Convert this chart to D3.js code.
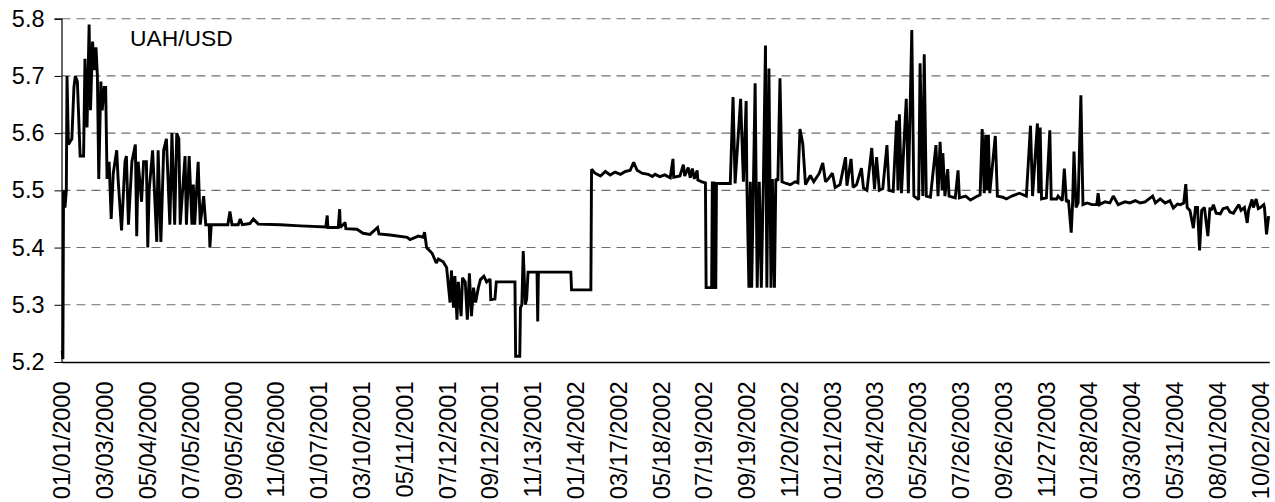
<!DOCTYPE html>
<html><head><meta charset="utf-8">
<script src="https://cdn.jsdelivr.net/npm/d3@7"></script>
<style>html,body{margin:0;padding:0;background:#fff;}svg{display:block;}</style>
</head><body>
<script>
// Days since 01/01/2000 (category axis) and UAH/USD rate
const dayIndex = [
1,2,3,5,7,8,10,15,18,20,
23,27,32,34,37,40,42,45,48,50,
52,54,57,59,62,64,66,69,72,75,
80,82,87,92,94,97,102,107,109,111,
116,119,123,125,127,132,138,140,144,148,
152,157,160,164,167,170,172,179,181,185,
189,191,193,198,201,206,209,214,215,217,
241,244,247,256,259,262,273,278,285,317,
346,383,385,386,401,403,404,411,412,428,
437,447,458,460,476,501,505,517,524,526,
529,537,543,546,553,558,563,565,568,570,
573,575,579,581,585,588,591,594,597,600,
604,607,612,616,621,622,628,630,657,658,
664,665,667,669,672,674,676,689,690,691,
738,739,767,768,773,781,788,795,802,810,
817,824,829,834,841,850,856,860,867,874,
882,886,887,896,901,903,908,911,914,917,
921,922,928,933,934,942,943,945,946,948,
949,969,973,976,984,988,992,993,996,998,
1000,1005,1008,1011,1014,1017,1020,1022,1025,1028,
1030,1033,1035,1038,1041,1044,1050,1056,1063,1067,
1070,1074,1078,1085,1090,1098,1103,1107,1111,1117,
1121,1128,1136,1138,1144,1147,1152,1159,1162,1167,
1174,1178,1181,1185,1190,1196,1199,1205,1210,1212,
1214,1217,1224,1227,1232,1235,1242,1244,1248,1250,
1253,1259,1267,1270,1273,1276,1277,1280,1284,1286,
1295,1299,1301,1310,1317,1324,1331,1334,1337,1339,
1341,1343,1345,1353,1356,1364,1369,1377,1388,1398,
1404,1407,1414,1416,1418,1420,1427,1432,1434,1442,
1444,1450,1453,1456,1459,1463,1465,1467,1470,1473,
1477,1480,1486,1493,1500,1502,1504,1512,1519,1524,
1531,1541,1548,1556,1563,1570,1581,1585,1592,1599,
1606,1611,1617,1621,1626,1629,1631,1635,1640,1643,
1646,1649,1652,1656,1661,1664,1666,1669,1673,1679,
1683,1689,1693,1698,1702,1706,1709,1714,1718,1720,
1725,1727,1731,1734,1737,1742,1743,1746,1749
];
const rate = [
5.22,5.205,5.50,5.47,5.50,5.70,5.58,5.59,5.68,5.70,
5.69,5.56,5.56,5.73,5.61,5.79,5.64,5.76,5.71,5.75,
5.70,5.52,5.69,5.64,5.68,5.68,5.52,5.55,5.45,5.53,
5.57,5.52,5.43,5.55,5.56,5.44,5.55,5.58,5.42,5.55,
5.48,5.55,5.55,5.40,5.50,5.57,5.41,5.57,5.41,5.57,
5.59,5.44,5.60,5.44,5.60,5.59,5.44,5.56,5.44,5.56,
5.44,5.51,5.44,5.55,5.44,5.49,5.44,5.44,5.40,5.44,
5.44,5.463,5.44,5.44,5.45,5.44,5.442,5.45,5.441,5.44,
5.438,5.436,5.456,5.435,5.435,5.467,5.435,5.444,5.433,5.432,
5.425,5.423,5.435,5.424,5.422,5.418,5.414,5.42,5.418,5.427,
5.40,5.39,5.373,5.38,5.375,5.365,5.304,5.36,5.295,5.35,
5.274,5.34,5.28,5.347,5.34,5.274,5.355,5.28,5.33,5.304,
5.33,5.344,5.35,5.34,5.345,5.309,5.31,5.34,5.34,5.21,
5.21,5.295,5.30,5.394,5.30,5.31,5.357,5.357,5.271,5.357,
5.357,5.326,5.326,5.537,5.53,5.525,5.533,5.527,5.532,5.528,
5.533,5.535,5.549,5.535,5.53,5.528,5.524,5.528,5.524,5.527,
5.522,5.555,5.523,5.525,5.545,5.525,5.54,5.522,5.538,5.52,
5.535,5.518,5.515,5.513,5.33,5.33,5.513,5.513,5.33,5.33,
5.512,5.512,5.663,5.512,5.66,5.515,5.656,5.515,5.33,5.515,
5.33,5.687,5.33,5.515,5.33,5.52,5.753,5.33,5.713,5.33,
5.52,5.33,5.52,5.517,5.696,5.515,5.512,5.51,5.515,5.513,
5.607,5.582,5.51,5.526,5.515,5.53,5.548,5.515,5.52,5.53,
5.505,5.51,5.558,5.508,5.555,5.505,5.51,5.539,5.504,5.50,
5.574,5.502,5.558,5.50,5.503,5.579,5.50,5.498,5.622,5.50,
5.633,5.495,5.66,5.495,5.78,5.49,5.484,5.722,5.49,5.738,
5.49,5.488,5.579,5.49,5.585,5.50,5.565,5.49,5.537,5.49,
5.487,5.535,5.487,5.49,5.483,5.488,5.492,5.607,5.495,5.597,
5.50,5.597,5.495,5.595,5.49,5.488,5.485,5.49,5.495,5.49,
5.613,5.49,5.617,5.495,5.61,5.485,5.487,5.605,5.485,5.485,
5.49,5.482,5.538,5.48,5.483,5.426,5.478,5.568,5.47,5.478,
5.666,5.475,5.478,5.475,5.475,5.495,5.475,5.48,5.478,5.49,
5.475,5.48,5.478,5.482,5.478,5.48,5.49,5.478,5.485,5.478,
5.482,5.469,5.476,5.475,5.478,5.511,5.47,5.465,5.434,5.47,
5.47,5.395,5.465,5.47,5.42,5.47,5.465,5.475,5.46,5.459,
5.468,5.47,5.462,5.46,5.468,5.475,5.465,5.47,5.443,5.465,
5.484,5.47,5.485,5.468,5.47,5.475,5.47,5.423,5.455
];
const tickLabels = ["01/01/2000","03/03/2000","05/04/2000","07/05/2000","09/05/2000","11/06/2000",
"01/07/2001","03/10/2001","05/11/2001","07/12/2001","09/12/2001","11/13/2001",
"01/14/2002","03/17/2002","05/18/2002","07/19/2002","09/19/2002","11/20/2002",
"01/21/2003","03/24/2003","05/25/2003","07/26/2003","09/26/2003","11/27/2003",
"01/28/2004","03/30/2004","05/31/2004","08/01/2004","10/02/2004"];
const labelStepDays = 62;
const yTicks = [5.2,5.3,5.4,5.5,5.6,5.7,5.8];
const seriesName = "UAH/USD";

(function () {
const W = 1275, H = 502;
const svg = d3.select("body").append("svg").attr("width", W).attr("height", H)
  .style("font-family", "'Liberation Sans', Arial, sans-serif");
svg.append("rect").attr("width", W).attr("height", H).attr("fill", "#fff");

const mLeft = 61.5, mRight = 1269.3, mTop = 18.7, mBottom = 362;
const x = d3.scaleLinear().domain([0, 1750]).range([mLeft, mRight]);
const y = d3.scaleLinear().domain([5.2, 5.8]).range([mBottom, mTop]);

// gridlines
svg.append("g").selectAll("line").data(yTicks.filter(v => v > 5.2)).join("line")
  .attr("x1", mLeft).attr("x2", mRight)
  .attr("y1", d => y(d)).attr("y2", d => y(d))
  .attr("stroke", "#6e6e6e").attr("stroke-width", 1.1).attr("stroke-dasharray", "9,6");

// y axis
const yAxis = d3.axisLeft(y).tickValues(yTicks).tickFormat(d3.format(".1f")).tickSize(7).tickPadding(10);
const gy = svg.append("g").attr("transform", `translate(${mLeft},0)`).call(yAxis);
gy.select(".domain").attr("stroke", "#000").attr("stroke-width", 1.2);
gy.selectAll(".tick line").attr("stroke", "#000");
gy.selectAll("text").attr("font-size", 23.5).attr("fill", "#000").attr("font-family", "'Liberation Sans', Arial, sans-serif");

// x axis
const xAxis = d3.axisBottom(x).tickValues(tickLabels.map((_, i) => i * labelStepDays))
  .tickFormat((d, i) => tickLabels[i]).tickSize(0).tickSizeOuter(0);
const gx = svg.append("g").attr("transform", `translate(0,${mBottom})`).call(xAxis);
gx.select(".domain").attr("stroke", "#000").attr("stroke-width", 1.3);
gx.selectAll("text")
  .attr("font-size", 23.5).attr("fill", "#000").attr("font-family", "'Liberation Sans', Arial, sans-serif")
  .attr("text-anchor", "end")
  .attr("transform", "rotate(-90)")
  .attr("x", -19.5).attr("y", 0).attr("dy", "0.36em");

// line
const pts = dayIndex.map((d, i) => [d, rate[i]]);
svg.append("path").datum(pts)
  .attr("fill", "none").attr("stroke", "#000").attr("stroke-width", 2.9)
  .attr("stroke-linejoin", "miter").attr("stroke-miterlimit", 2)
  .attr("d", d3.line().x(d => x(d[0])).y(d => y(d[1])));

// series label
svg.append("text").attr("x", 130).attr("y", 46).attr("font-size", 22.8).attr("fill", "#000")
  .text(seriesName);
})();
</script>
</body></html>
